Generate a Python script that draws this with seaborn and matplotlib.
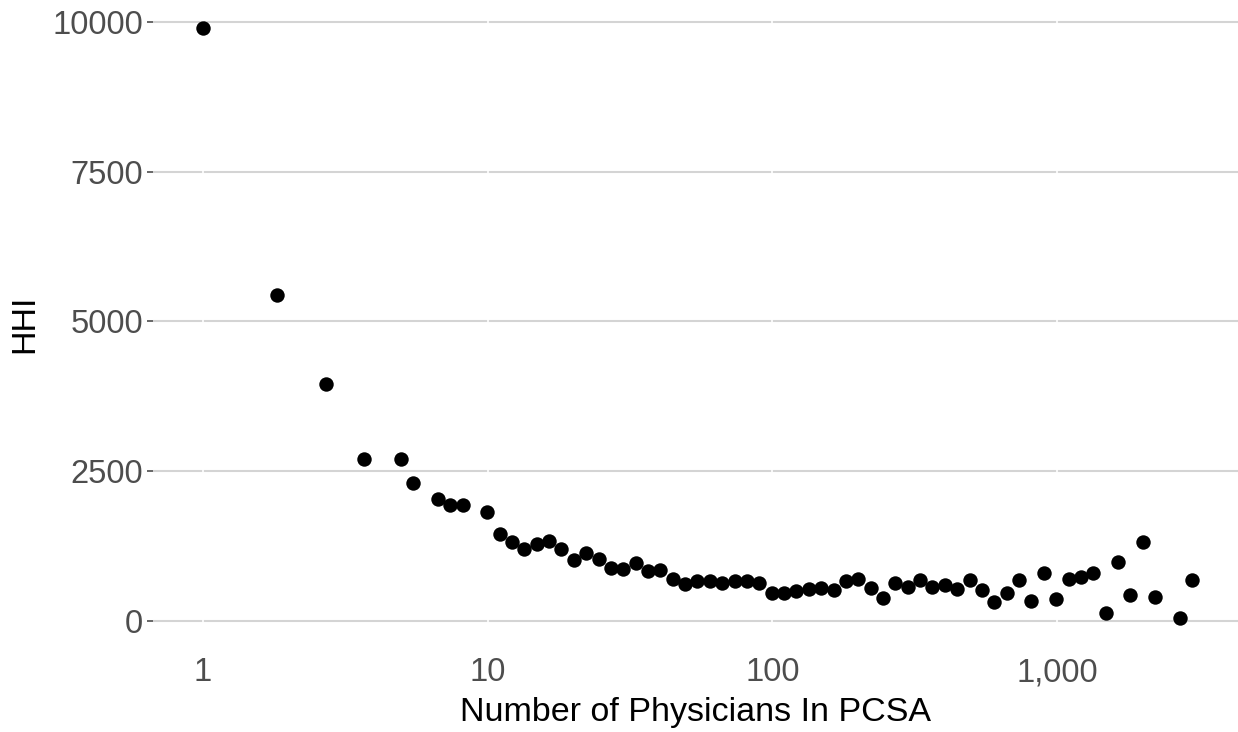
import numpy as np
import pandas as pd
import matplotlib
matplotlib.use("Agg")
import matplotlib.pyplot as plt
from matplotlib.ticker import FixedLocator, FixedFormatter, NullLocator
import seaborn as sns

# Mean PCSA physician count per log bin, and the mean HHI in that bin
physicians = [1.00, 1.82, 2.72, 3.67, 4.95, 5.47, 6.69, 7.39, 8.17, 9.97,
              11.02, 12.18, 13.46, 14.88, 16.44, 18.17, 20.09, 22.20, 24.53, 27.11,
              29.96, 33.12, 36.60, 40.45, 44.70, 49.40, 54.60, 60.34, 66.69, 73.70,
              81.45, 90.02, 99.48, 109.95, 121.51, 134.29, 148.41, 164.02, 181.27, 200.34,
              221.41, 244.69, 270.43, 298.87, 330.30, 365.04, 403.43, 445.86, 492.75, 544.57,
              601.85, 665.14, 735.10, 812.41, 897.85, 992.27, 1096.63, 1211.97, 1339.43, 1480.30,
              1635.98, 1808.04, 1998.20, 2208.35, 2697.28, 2980.96]
hhi = [9890, 5440, 3955, 2710, 2710, 2298, 2041, 1941, 1941, 1819,
       1457, 1319, 1202, 1280, 1330, 1207, 1023, 1140, 1030, 880,
       868, 963, 835, 843, 706, 613, 663, 663, 639, 673,
       663, 639, 462, 472, 506, 534, 556, 517, 663, 696,
       551, 384, 639, 562, 684, 572, 596, 539, 691, 517,
       312, 462, 684, 334, 796, 362, 696, 729, 801, 134,
       985, 434, 1313, 401, 55, 679]

x_ticks = [1, 10, 100, 1000]
x_tick_labels = ["1", "10", "100", "1,000"]
y_ticks = [0, 2500, 5000, 7500, 10000]
y_tick_labels = ["0", "2500", "5000", "7500", "10000"]

df = pd.DataFrame({"physicians": physicians, "hhi": hhi})

sns.set_theme(style="white")
plt.rcParams["font.family"] = ["Liberation Sans", "DejaVu Sans"]

fig = plt.figure(figsize=(12.38, 7.32), dpi=100)
ax = fig.add_axes([153 / 1238, 85 / 732, (1238 - 153) / 1238, 647 / 732])

ax.set_xscale("log")
ax.set_xlim(10 ** -0.1745, 10 ** 3.635)
ax.set_ylim(-435, 10365)

grid_col = "#D4D4D4"
for yv in y_ticks:
    ax.axhline(yv, color=grid_col, lw=1.5, zorder=0)
for xv in x_ticks:
    ax.axvline(xv, color="white", lw=1.2, zorder=0.5)

sns.scatterplot(data=df, x="physicians", y="hhi", ax=ax, color="black",
                s=108, linewidth=0, zorder=3)

ax.xaxis.set_major_locator(FixedLocator(x_ticks))
ax.xaxis.set_major_formatter(FixedFormatter(x_tick_labels))
ax.xaxis.set_minor_locator(NullLocator())
ax.yaxis.set_major_locator(FixedLocator(y_ticks))
ax.yaxis.set_major_formatter(FixedFormatter(y_tick_labels))

ax.tick_params(axis="x", length=0, pad=7.5, labelsize=23.5, labelcolor="#4D4D4D")
ax.tick_params(axis="y", length=4, width=1.2, color="#4D4D4D", pad=3,
               labelsize=23.5, labelcolor="#4D4D4D", left=True)

for sp in ax.spines.values():
    sp.set_visible(False)
ax.grid(False)

ax.set_xlabel("Number of Physicians In PCSA", fontsize=24.5, color="black", labelpad=6.5)
ax.set_ylabel("HHI", fontsize=24.5, color="black", labelpad=9)

fig.savefig("out.png", dpi=100, facecolor="white")
